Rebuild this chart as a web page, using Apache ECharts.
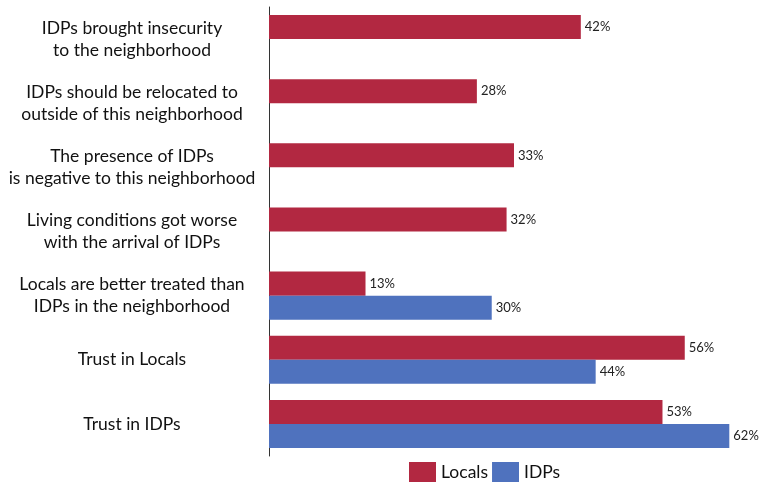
<!DOCTYPE html>
<html>
<head>
<meta charset="utf-8">
<script src="https://cdn.jsdelivr.net/npm/echarts@6/dist/echarts.min.js"></script>
<style>
  html, body { margin: 0; padding: 0; background: #fff; }
  #chart { width: 761px; height: 482px; }
</style>
</head>
<body>
<div id="chart"></div>
<script>
var categories = [
  "IDPs brought insecurity\nto the neighborhood",
  "IDPs should be relocated to\noutside of this neighborhood",
  "The presence of IDPs\nis negative to this neighborhood",
  "Living conditions got worse\nwith the arrival of IDPs",
  "Locals are better treated than\nIDPs in the neighborhood",
  "Trust in Locals",
  "Trust in IDPs"
];
var localsValues = [42, 28, 33, 32, 13, 56, 53];
var idpsValues = [null, null, null, null, 30, 44, 62];

var chart = echarts.init(document.getElementById("chart"));

var labelStyle = {
  show: true,
  position: "right",
  distance: 4,
  formatter: "{c}%",
  color: "#222",
  fontSize: 13,
  fontFamily: "Lato"
};

var option = {
  animation: false,
  textStyle: { fontFamily: "Lato" },
  legend: {
    top: 457,
    left: 404,
    itemWidth: 27,
    itemHeight: 20,
    itemGap: 4,
    icon: "rect",
    textStyle: { fontSize: 17.5, color: "#111", fontFamily: "Lato" },
    data: ["Locals", "IDPs"]
  },
  grid: {
    left: 269,
    top: 7,
    width: 490,
    height: 449
  },
  xAxis: {
    type: "value",
    min: 0,
    max: 66,
    show: false
  },
  yAxis: {
    type: "category",
    inverse: true,
    data: categories,
    axisTick: { show: false },
    axisLine: { show: true, lineStyle: { color: "#333", width: 1 } },
    axisLabel: {
      color: "#111",
      fontSize: 17.5,
      lineHeight: 22,
      align: "center",
      margin: 137,
      fontFamily: "Lato"
    }
  },
  series: [
    {
      name: "Locals",
      type: "bar",
      data: localsValues,
      barGap: "0%",
      barCategoryGap: "25%",
      itemStyle: { color: "#B22841" },
      label: labelStyle
    },
    {
      name: "IDPs",
      type: "bar",
      data: idpsValues,
      itemStyle: { color: "#4F72BE" },
      label: labelStyle
    }
  ]
};

chart.setOption(option);
</script>
</body>
</html>
